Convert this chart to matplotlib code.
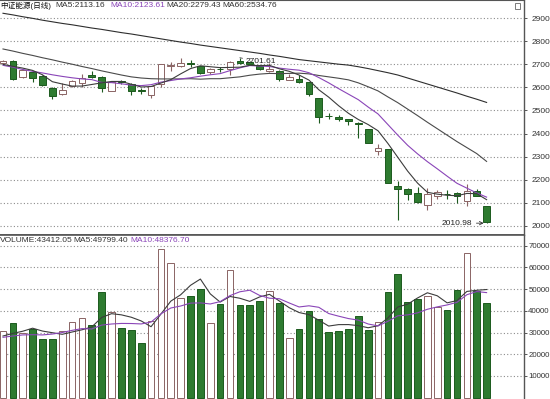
import matplotlib
matplotlib.use('Agg')
import matplotlib.pyplot as plt
from matplotlib.patches import Rectangle
import numpy as np

# daily candles, 50 sessions
opens = [2705, 2715, 2644, 2668, 2649, 2597, 2570, 2607, 2618, 2652,
         2647, 2586, 2630, 2616, 2588, 2569, 2614, 2693, 2691, 2704,
         2691, 2669, 2681, 2678, 2716, 2710, 2694, 2670, 2673, 2634,
         2636, 2622, 2553, 2478, 2473, 2463, 2444, 2418, 2326, 2332,
         2172, 2160, 2144, 2090, 2128, 2139, 2141, 2109, 2152, 2084]
highs = [2718, 2718, 2679, 2670, 2652, 2600, 2618, 2634, 2658, 2670,
         2650, 2625, 2634, 2618, 2597, 2608, 2702, 2712, 2727, 2720,
         2693, 2684, 2690, 2714, 2729, 2714, 2697, 2705, 2675, 2657,
         2654, 2624, 2555, 2488, 2482, 2465, 2451, 2420, 2355, 2335,
         2194, 2162, 2166, 2163, 2157, 2155, 2145, 2180, 2160, 2086]
lows = [2700, 2632, 2641, 2625, 2606, 2552, 2568, 2604, 2604, 2642,
        2580, 2583, 2617, 2567, 2572, 2556, 2603, 2673, 2689, 2688,
        2660, 2657, 2667, 2652, 2703, 2700, 2676, 2668, 2626, 2632,
        2620, 2563, 2447, 2462, 2453, 2436, 2379, 2357, 2307, 2185,
        2025, 2111, 2100, 2070, 2115, 2118, 2100, 2086, 2128, 2010.98]
closes = [2716, 2636, 2676, 2640, 2609, 2562, 2590, 2628, 2640, 2644,
          2598, 2622, 2624, 2583, 2584, 2606, 2700, 2696, 2708, 2702,
          2662, 2682, 2678, 2712, 2705, 2703, 2679, 2682, 2638, 2646,
          2623, 2572, 2473, 2475, 2462, 2456, 2441, 2360, 2339, 2187,
          2160, 2138, 2103, 2136, 2146, 2137, 2130, 2150, 2130, 2018]

ma5 = [2700, 2692, 2684, 2674, 2655, 2625, 2615, 2606, 2606, 2613,
       2620, 2626, 2626, 2614, 2602, 2604, 2619, 2634, 2659, 2682,
       2694, 2690, 2686, 2687, 2688, 2696, 2695, 2696, 2681, 2670,
       2654, 2632, 2590, 2558, 2521, 2488, 2461, 2439, 2412, 2357,
       2297, 2237, 2185, 2145, 2137, 2132, 2130, 2140, 2139, 2113]
ma10 = [2696, 2688, 2678, 2670, 2663, 2655, 2648, 2642, 2637, 2634,
        2622, 2621, 2616, 2610, 2608, 2612, 2623, 2630, 2637, 2642,
        2649, 2655, 2660, 2673, 2685, 2695, 2693, 2691, 2684, 2679,
        2675, 2664, 2643, 2620, 2595, 2571, 2547, 2515, 2485, 2439,
        2393, 2349, 2312, 2278, 2247, 2215, 2184, 2163, 2142, 2124]
ma20 = [2767, 2758, 2748, 2739, 2729, 2720, 2710, 2701, 2691, 2682,
        2672, 2663, 2654, 2646, 2641, 2638, 2637, 2637, 2637, 2638,
        2636, 2638, 2638, 2642, 2646, 2653, 2658, 2661, 2660, 2661,
        2662, 2659, 2652, 2646, 2640, 2633, 2620, 2603, 2585, 2559,
        2534, 2506, 2478, 2449, 2421, 2393, 2365, 2339, 2313, 2279]
ma60 = [2922, 2915, 2907, 2900, 2892, 2885, 2878, 2872, 2865, 2858,
        2852, 2845, 2838, 2832, 2825, 2818, 2811, 2804, 2797, 2791,
        2784, 2778, 2772, 2766, 2760, 2754, 2748, 2741, 2735, 2728,
        2721, 2716, 2711, 2706, 2701, 2697, 2690, 2682, 2673, 2664,
        2654, 2641, 2628, 2615, 2602, 2589, 2576, 2562, 2549, 2535]

volumes = [30800, 34500, 29600, 31600, 26900, 27000, 30800, 34900, 36700, 33500,
           48800, 39500, 32200, 31200, 25000, 35500, 68600, 61900, 45900, 46800,
           49900, 34500, 43000, 58800, 42700, 42700, 44700, 49000, 43500, 27300,
           31500, 39900, 36100, 30100, 30600, 31600, 37500, 31200, 34700, 48500,
           56800, 44100, 45400, 46700, 41600, 40500, 49400, 66400, 49300, 43412]
vol_ma5 = [28400, 29600, 30600, 32000, 30680, 29920, 29180, 30240, 31260, 32580,
           36940, 38680, 38140, 37040, 35340, 32680, 38500, 44440, 47380, 51740,
           54620, 47800, 44020, 46600, 45780, 44340, 46380, 47580, 44520, 41440,
           39200, 38240, 35660, 32980, 33640, 33660, 33180, 32200, 33120, 36700,
           41740, 43060, 45900, 48300, 46920, 43660, 44720, 48920, 49440, 49799]
vol_ma10 = [27800, 28400, 28900, 29000, 28900, 29300, 30000, 31000, 31800, 31630,
            33430, 33930, 34190, 34150, 33960, 34810, 38590, 41290, 42210, 43540,
            43650, 43150, 44230, 46990, 48760, 49480, 47090, 45800, 45560, 43610,
            41770, 42310, 41620, 38750, 37540, 36430, 35710, 33930, 33050, 35170,
            37700, 38120, 39050, 40710, 41810, 42700, 43890, 47410, 48870, 48377]

price_ticks = [2000, 2100, 2200, 2300, 2400, 2500, 2600, 2700, 2800, 2900]
vol_ticks = [10000, 20000, 30000, 40000, 50000, 60000, 70000]

GREEN = '#2e7b30'
GREEN_EDGE = '#1c5a1e'
UP_EDGE = '#8a6464'
GRID = '#8c8c8c'
AXIS = '#555555'
PURPLE = '#8a45b8'

W, H = 550, 399
fig = plt.figure(figsize=(W / 100, H / 100), dpi=100)
fig.patch.set_facecolor('white')
split = 235
ax = fig.add_axes([0, 1 - split / H, 524 / W, split / H])
axv = fig.add_axes([0, 0, 524 / W, (H - split) / H])

x = np.arange(len(closes))
bw = 0.68

for i in x:
    o, c = opens[i], closes[i]
    up = c >= o
    edge = UP_EDGE if up else GREEN_EDGE
    face = 'white' if up else GREEN
    ax.vlines(i, lows[i], highs[i], color=edge, lw=0.8, zorder=2)
    ax.add_patch(Rectangle((i - bw / 2, min(o, c)), bw, max(abs(c - o), 0.5),
                           facecolor=face, edgecolor=edge, lw=0.7, zorder=3))

ax.plot(x, ma60, color='#2e2e2e', lw=0.8, zorder=4)
ax.plot(x, ma20, color='#4a4a4a', lw=0.8, zorder=4)
ax.plot(x, ma10, color=PURPLE, lw=0.8, zorder=4)
ax.plot(x, ma5, color='#3c3c3c', lw=0.8, zorder=4)

# high / low markers
ax.annotate('2701.61', xy=(24, highs[24]), xytext=(24.55, 2711),
            fontsize=6, family='Liberation Sans', color='#222222', ha='left', va='center',
            arrowprops=dict(arrowstyle='-', color='#444444', lw=0.6,
                            shrinkA=0, shrinkB=0), zorder=5)
ax.annotate('2010.98', xy=(48.7, lows[49]), xytext=(47.55, lows[49]),
            fontsize=6, family='Liberation Sans', color='#222222', ha='right', va='center',
            arrowprops=dict(arrowstyle='->', color='#333333', lw=0.6,
                            shrinkA=1, shrinkB=0), zorder=5)

ax.set_xlim(-0.304, 52.79)
ax.set_ylim(1959.6, 2979.6)

up_v = [closes[i] >= opens[i] for i in x]
axv.bar(x, volumes, width=bw,
        color=['white' if u else GREEN for u in up_v],
        edgecolor=[UP_EDGE if u else GREEN_EDGE for u in up_v], lw=0.7, zorder=3)
axv.plot(x, vol_ma5, color='#3c3c3c', lw=0.8, zorder=4)
axv.plot(x, vol_ma10, color=PURPLE, lw=0.8, zorder=4)
axv.set_xlim(-0.304, 52.79)
axv.set_ylim(-600, 74900)

for a, ticks, pad, size in ((ax, price_ticks, 3.3, 6), (axv, vol_ticks, 0.6, 5.7)):
    a.set_facecolor('white')
    a.yaxis.tick_right()
    a.set_yticks(ticks)
    a.set_yticklabels([str(t) for t in ticks])
    a.tick_params(axis='y', direction='out', length=2.5, width=0.7, color=AXIS,
                  labelsize=size, labelcolor='#333333', pad=pad)
    a.set_xticks([])
    a.grid(axis='y', linestyle=(0, (1, 2)), color=GRID, lw=0.8)
    a.set_axisbelow(True)
    a.spines['left'].set_visible(False)
    a.spines['right'].set_color(AXIS)
    a.spines['right'].set_linewidth(1.0)
    for lab in a.get_yticklabels():
        lab.set_family('Liberation Sans')

ax.spines['top'].set_color(AXIS)
ax.spines['bottom'].set_color(AXIS)
ax.spines['bottom'].set_linewidth(1.2)
axv.spines['top'].set_color(AXIS)
axv.spines['top'].set_linewidth(1.2)
axv.spines['bottom'].set_visible(False)

fam = ['Liberation Sans', 'Noto Sans CJK SC']


def px_text(xp, yp, s, color, size=6):
    fig.text(xp / W, 1 - yp / H, s, fontsize=size, family=fam, color=color,
             ha='left', va='center')


px_text(0, 5.7, '中证能源(日线)', '#111111', size=5.5)
px_text(55, 5.7, 'MA5:2113.16', '#333333')
px_text(110, 5.7, 'MA10:2123.61', PURPLE)
px_text(166, 5.7, 'MA20:2279.43', '#333333')
px_text(222, 5.7, 'MA60:2534.76', '#333333')

px_text(0, 240.7, 'VOLUME:43412.05', '#333333')
px_text(73, 240.7, 'MA5:49799.40', '#333333')
px_text(130, 240.7, 'MA10:48376.70', PURPLE)

# small window icon in the top-right corner
fig.patches.append(Rectangle((515 / W, 1 - 9 / H), 5 / W, 6 / H, transform=fig.transFigure,
                             fill=False, edgecolor='#666666', lw=0.6))

fig.savefig('out.png', dpi=100)
